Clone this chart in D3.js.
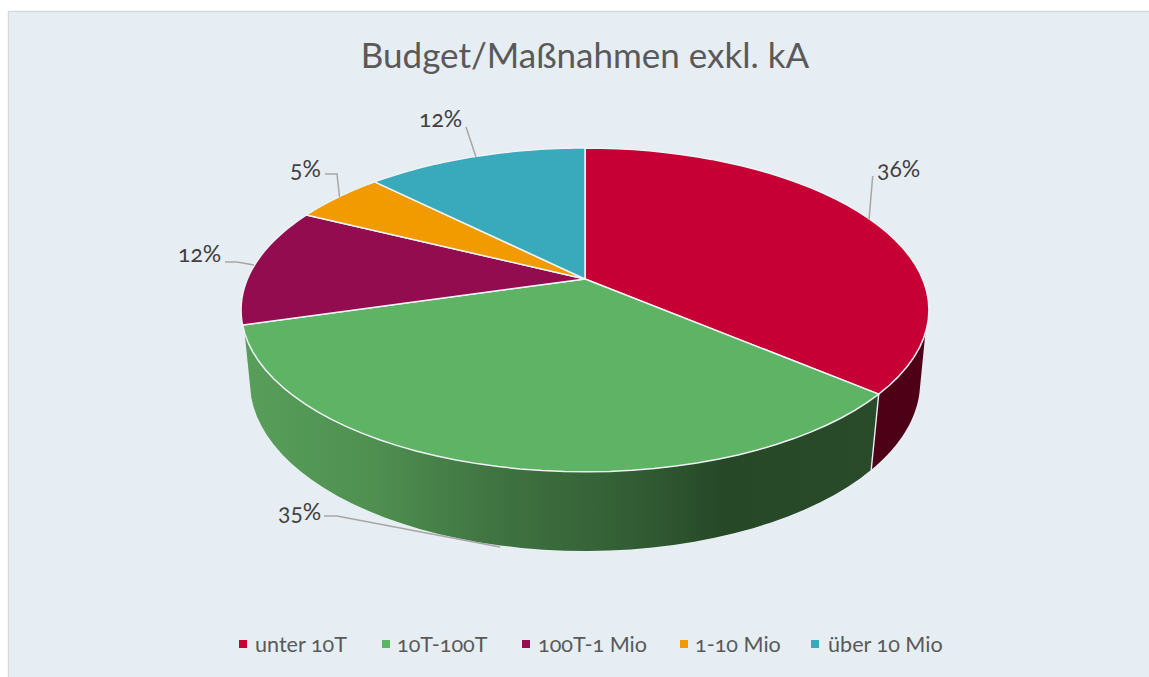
<!DOCTYPE html>
<html><head><meta charset="utf-8">
<script src="https://cdn.jsdelivr.net/npm/d3@7/dist/d3.min.js"></script>
<style>
html,body{margin:0;padding:0;background:#fff;overflow:hidden}
text{font-family:Lato,"Open Sans",sans-serif;font-variant-numeric:oldstyle-nums;font-feature-settings:"onum" 1;}
</style></head><body><svg id="c" width="1149" height="677"></svg>
<script>
const categories = ["unter 10T","10T-100T","100T-1 Mio","1-10 Mio","über 10 Mio"];
const values = [36.2,34.3,11.85,5.15,12.5];
const labels = ["36%","35%","12%","5%","12%"];
const colors = ["#c60035","#5eb364","#930c50","#f29b00","#39a9bc"];
const title = "Budget/Maßnahmen exkl. kA";

const svg = d3.select("#c");
svg.append("rect").attr("x",8.5).attr("y",11.5).attr("width",1160).attr("height",700)
  .attr("fill","#e6eef4").attr("stroke","#d9d9d9").attr("stroke-width",1.5);

const deg = Math.PI/180, k = 0.191;
// Perspective projection of a circle angle (clockwise from top) onto the tilted disc
const proj = (R,a,cx,cy) => t => {
  const x = Math.sin(t), y = -Math.cos(t), w = 1 - k*y;
  return [cx + R*x/w, cy + a*y/w];
};
const topP = proj(337.6,156,585,279);
const botP = proj(329,163,585,349.5);
const samples = (p,a,b) => d3.range(0,41).map(i => p(a+(b-a)*i/40));
const line = d3.line();

const arcs = d3.pie().sort(null).value(d=>d)(values);
const topVis = [109*deg,251*deg], botVis = [104.5*deg,255.5*deg];

// side wall
const defs = svg.append("defs");
const grad = defs.append("linearGradient").attr("id","gw").attr("gradientUnits","userSpaceOnUse")
  .attr("x1",245).attr("x2",875).attr("y1",0).attr("y2",0);
[[0,"#589e5a"],[0.2,"#4f9051"],[0.4,"#3f7341"],[0.6,"#345f36"],[0.76,"#264827"],[1,"#2a4b2a"]]
  .forEach(s=>grad.append("stop").attr("offset",s[0]).attr("stop-color",s[1]));
const wallFill = ["#4d0016","url(#gw)"];
arcs.slice(0,2).forEach((d,i)=>{
  const a0t = Math.max(d.startAngle,topVis[0]), a1t = Math.min(d.endAngle,topVis[1]);
  const a0b = Math.max(d.startAngle,botVis[0]), a1b = Math.min(d.endAngle,botVis[1]);
  const pts = samples(topP,a0t,a1t).concat(samples(botP,a0b,a1b).reverse());
  svg.append("path").attr("d",line(pts)+"Z").attr("fill",wallFill[i]);
});
const cut = arcs[0].endAngle;
svg.append("path").attr("d",line([topP(cut),botP(cut)])).attr("stroke","#e6eef4").attr("stroke-width",1.4).attr("fill","none");

// top face
arcs.forEach((d,i)=>{
  const pts = [[585,279]].concat(samples(topP,d.startAngle,d.endAngle));
  svg.append("path").attr("d",line(pts)+"Z").attr("fill",colors[i])
    .attr("stroke","#eef3f6").attr("stroke-width",1.5).attr("stroke-linejoin","round");
});

// leaders
const leaders = [
 [[869,220],[872.7,176]],
 [[324,516],[337,516],[500,547]],
 [[225,262],[237,262],[254,265]],
 [[325,174],[337,174],[339.5,197]],
 [[466,127],[476,157]]
];
leaders.forEach(l=>svg.append("path").attr("d",line(l)).attr("fill","none").attr("stroke","#a6a6a6").attr("stroke-width",1.5));

const labelPos = [[877,177],[278,520],[178,262],[290,177],[419,127]];
labels.forEach((t,i)=>svg.append("text").attr("x",labelPos[i][0]).attr("y",labelPos[i][1]).attr("font-size",23).attr("fill","#404040").text(t));

svg.append("text").attr("x",585).attr("y",68).attr("text-anchor","middle").attr("font-size",35).attr("fill","#595959").text(title);

// legend
const legX = [239,382,522,680,811], legT=[255,397,538,695,828];
categories.forEach((c,i)=>{
  svg.append("rect").attr("x",legX[i]).attr("y",640).attr("width",8).attr("height",8).attr("fill",colors[i]);
  svg.append("text").attr("x",legT[i]).attr("y",652).attr("font-size",21.6).attr("fill","#595959").text(c);
});
</script></body></html>
